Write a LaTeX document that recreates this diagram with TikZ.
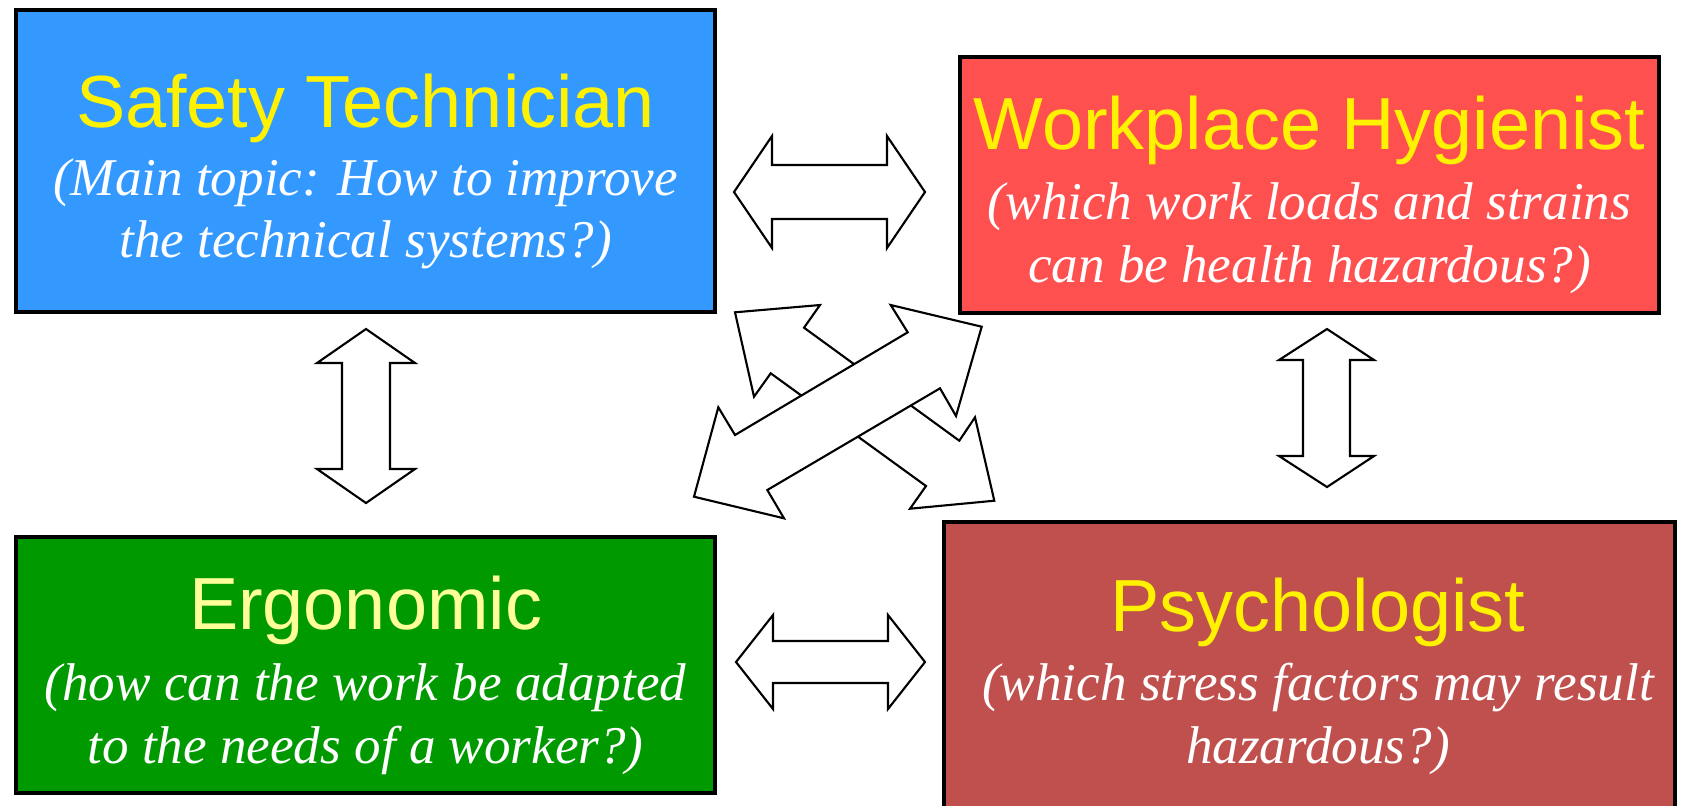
\documentclass[tikz,border=0pt]{standalone}
\usepackage{fontspec}
\setmainfont{Liberation Serif}
\newfontfamily\titlefont{Liberation Sans}
\definecolor{stblue}{HTML}{3399FF}
\definecolor{whred}{HTML}{FF5050}
\definecolor{ergreen}{HTML}{009900}
\definecolor{psred}{HTML}{C0504D}
\definecolor{paleyellow}{HTML}{FFFF99}
\begin{document}
\begin{tikzpicture}[x=0.01cm,y=-0.01cm,
  box/.style={draw=black, line width=1.15pt, inner sep=0pt, minimum width=6.99cm},
  ttl/.style={font=\titlefont\fontsize{21}{25}\selectfont, text=yellow, anchor=base, inner sep=0pt},
  sub/.style={font=\fontsize{15.1}{18}\selectfont\itshape, text=white, anchor=base, inner sep=0pt},
  barrow/.style={draw=black, fill=white, line width=0.6pt, line join=miter}]
\useasboundingbox (0,0) rectangle (1694,805);
\clip (0,0) rectangle (1694,805);
% boxes
\node[box, fill=stblue, minimum height=3.02cm] (st) at (365.5,161) {};
\node[box, fill=whred, minimum height=2.55cm] (wh) at (1309.5,185) {};
\node[box, fill=ergreen, minimum height=2.55cm] (er) at (365.5,665) {};
\node[box, fill=psred, minimum width=7.31cm, minimum height=2.95cm] (ps) at (1309.5,670) {};
% texts
\node[ttl] (stt) at (365.5,127.5) {Safety Technician};
\node[sub] (sts1) at (365.5,195) {(Main topic: How to improve};
\node[sub] (sts2) at (365.5,257) {the technical systems?)};
\node[ttl] (wht) at (1309.5,149) {Workplace Hygienist};
\node[sub] (whs1) at (1309.5,219) {(which work loads and strains};
\node[sub] (whs2) at (1309.5,282) {can be health hazardous?)};
\node[ttl, text=paleyellow] (ert) at (365.5,629) {Ergonomic};
\node[sub] (ers1) at (365.5,700) {(how can the work be adapted};
\node[sub] (ers2) at (365.5,763) {to the needs of a worker?)};
\node[ttl] (pst) at (1318,631) {Psychologist};
\node[sub] (pss1) at (1318,700) {(which stress factors may result};
\node[sub] (pss2) at (1318,763) {hazardous?)};
% top horizontal double arrow
\draw[barrow] (734,192) -- (772,136) -- (772,165) -- (887,165) -- (887,136) -- (925,192)
  -- (887,248) -- (887,219) -- (772,219) -- (772,248) -- cycle;
% bottom horizontal double arrow
\draw[barrow] (736,662) -- (773,615) -- (773,641) -- (888,641) -- (888,615) -- (925,662)
  -- (888,709) -- (888,683) -- (773,683) -- (773,709) -- cycle;
% left vertical double arrow
\draw[barrow] (366,329) -- (415,363) -- (390,363) -- (390,469) -- (415,469) -- (366,503)
  -- (317,469) -- (342,469) -- (342,363) -- (317,363) -- cycle;
% right vertical double arrow
\draw[barrow] (1327,329) -- (1374,360) -- (1350,360) -- (1350,456) -- (1374,456) -- (1327,487)
  -- (1279,456) -- (1303,456) -- (1303,360) -- (1279,360) -- cycle;
% diagonal arrow NW-SE (behind)
\draw[barrow] (735,312.3) -- (820,305) -- (804,327.7) -- (959.3,440.7) -- (975,417.3)
  -- (994.3,500.7) -- (910,508.7) -- (926,486) -- (770.7,373.3) -- (754,396.7) -- cycle;
% diagonal arrow SW-NE (front)
\draw[barrow] (694,496.7) -- (718.3,407.3) -- (735,435) -- (907.7,332.3) -- (890.7,305)
  -- (981.7,326.7) -- (956,416) -- (940,388.3) -- (767.3,490) -- (784,518.3) -- cycle;
\end{tikzpicture}
\end{document}
